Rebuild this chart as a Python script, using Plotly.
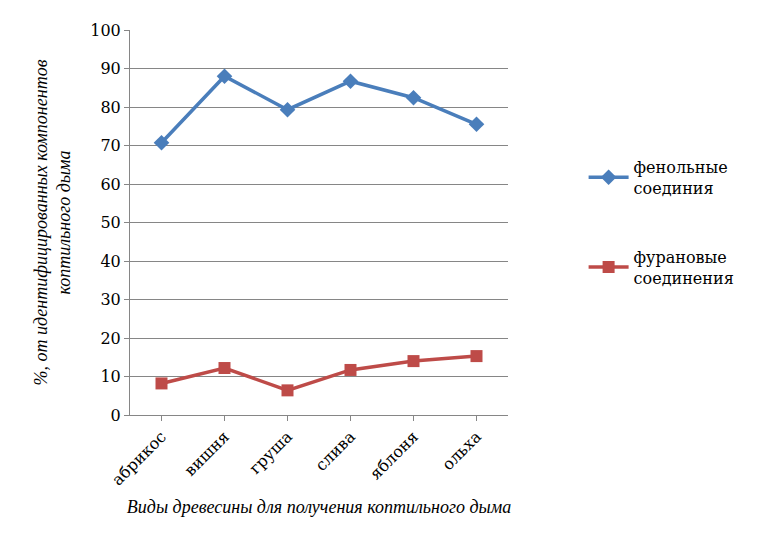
import plotly.graph_objects as go

categories = ["абрикос", "вишня", "груша", "слива", "яблоня", "ольха"]
phenol = [70.7, 88.0, 79.3, 86.7, 82.4, 75.5]
furan = [8.2, 12.2, 6.4, 11.7, 14.0, 15.3]

serif = "Liberation Serif, Tinos, DejaVu Serif, serif"
plain = "DejaVu Serif"
tick_font = dict(family=plain, size=16, color="black")

fig = go.Figure()
fig.add_trace(go.Scatter(
    x=categories, y=phenol, mode="lines+markers",
    name="фенольные<br>соединия", legendgroup="a",
    line=dict(color="#4a7ebb", width=3.5),
    marker=dict(symbol="diamond", size=12, color="#4a7ebb"),
))
fig.add_trace(go.Scatter(
    x=categories, y=furan, mode="lines+markers",
    name="фурановые<br>соединения", legendgroup="b",
    line=dict(color="#be4b48", width=3.5),
    marker=dict(symbol="square", size=12, color="#be4b48"),
))

fig.update_layout(
    width=757, height=533,
    paper_bgcolor="white", plot_bgcolor="white",
    font=dict(family=serif, size=18, color="black"),
    margin=dict(l=122, r=257, t=22, b=126),
    showlegend=True,
    legend=dict(x=1.2, y=0.5, xanchor="left", yanchor="middle",
                font=dict(family=plain, size=16), tracegroupgap=45,
                itemwidth=40),
    xaxis=dict(tickangle=-45, showline=True, linecolor="#868686",
               ticks="outside", ticklen=5, tickcolor="#868686",
               tickfont=tick_font, range=[-0.5, 5.5],
               title=dict(text="<i>Виды древесины для получения коптильного дыма</i>",
                          standoff=12, font=dict(family=serif, size=18))),
    yaxis=dict(range=[0, 100], dtick=10, showgrid=True, gridcolor="#868686",
               gridwidth=1, showline=True, linecolor="#868686",
               ticks="outside", ticklen=5, tickcolor="#868686",
               tickfont=tick_font,
               title=dict(text="<i>%, от идентифицированных компонентов<br>коптильного дыма</i>",
                          standoff=14, font=dict(family=serif, size=18))),
)

fig.write_html("out.html")
